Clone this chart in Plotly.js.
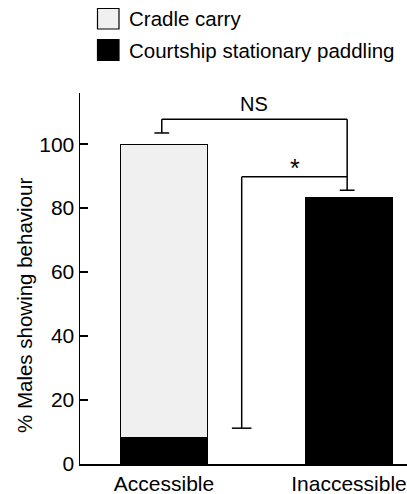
<!DOCTYPE html>
<html><head><meta charset="utf-8">
<script src="https://cdn.plot.ly/plotly-3.0.1.min.js"></script>
<style>html,body{margin:0;padding:0;background:#fff}#chart{width:407px;height:494px}</style>
</head><body><div id="chart"></div>
<script>
// ---- data ----
const categories = ['Accessible', 'Inaccessible'];
const seriesNames = ['Cradle carry', 'Courtship stationary paddling'];
const courtshipValues = [8.3, 83.3];
const cradleValues = [91.7, 0];
const yTickValues = [0, 20, 40, 60, 80, 100];
const yAxisTitle = '% Males showing behaviour';
// significance brackets: [left x, right x] (category index), [left end y, top y, right end y]
const nsBracketX = [-0.012, 0.99];
const nsBracketY = [103.5, 107.8, 85.6];
const nsLabel = 'NS';
const starBracketX = [0.42, 0.99];
const starBracketY = [11.2, 89.8, 89.8];
const starLabel = '*';

// ---- styles ----
const FONT = 'Liberation Sans, Arial, Helvetica, sans-serif';
const GRAY = '#f0f0f0';
const LW = 1.5;
const M = {l: 80, r: 0, t: 93, b: 30};
const W = 407, H = 494;
const pw = W - M.l - M.r, ph = H - M.t - M.b;
const px2x = p => (p - M.l) / pw;
const py2y = p => (H - M.b - p) / ph;

const traces = [
  {type: 'bar', name: seriesNames[1], x: categories, y: courtshipValues,
   marker: {color: '#000', line: {color: '#000', width: 1}}, showlegend: false, hoverinfo: 'skip'},
  {type: 'bar', name: seriesNames[0], x: categories, y: cradleValues,
   marker: {color: GRAY, line: {color: '#000', width: 1}}, showlegend: false, hoverinfo: 'skip'}
];

function line(x0, y0, x1, y1) {
  return {type: 'line', xref: 'x', yref: 'y', x0, y0, x1, y1, line: {color: '#000', width: LW}};
}
const capNS = 0.04, capStar = 0.053;
const shapes = [
  line(nsBracketX[0], nsBracketY[0], nsBracketX[0], nsBracketY[1]),
  line(nsBracketX[0], nsBracketY[1], nsBracketX[1], nsBracketY[1]),
  line(nsBracketX[1], nsBracketY[1], nsBracketX[1], nsBracketY[2]),
  line(nsBracketX[0] - capNS, nsBracketY[0], nsBracketX[0] + capNS, nsBracketY[0]),
  line(nsBracketX[1] - capNS, nsBracketY[2], nsBracketX[1] + capNS, nsBracketY[2]),
  line(starBracketX[0], starBracketY[0], starBracketX[0], starBracketY[1]),
  line(starBracketX[0], starBracketY[1], starBracketX[1], starBracketY[2]),
  line(starBracketX[0] - capStar, starBracketY[0], starBracketX[0] + capStar, starBracketY[0]),
  // legend boxes
  {type: 'rect', xref: 'paper', yref: 'paper', x0: px2x(97.5), x1: px2x(119), y0: py2y(29), y1: py2y(8.5),
   fillcolor: GRAY, line: {color: '#000', width: 1.2}},
  {type: 'rect', xref: 'paper', yref: 'paper', x0: px2x(97.5), x1: px2x(119), y0: py2y(60.5), y1: py2y(39.5),
   fillcolor: '#000', line: {color: '#000', width: 1.2}}
];

const annotations = [
  {xref: 'x', yref: 'y', x: (nsBracketX[0] + nsBracketX[1]) / 2, y: nsBracketY[1], yanchor: 'bottom', yshift: 2,
   text: nsLabel, showarrow: false, font: {family: FONT, size: 20, color: '#000'}},
  {xref: 'x', yref: 'y', x: 0.71, y: starBracketY[1], yanchor: 'bottom', yshift: -7,
   text: starLabel, showarrow: false, font: {family: FONT, size: 25, color: '#000'}},
  {xref: 'paper', yref: 'paper', x: px2x(127), y: py2y(18.8), xanchor: 'left', yanchor: 'middle',
   text: seriesNames[0], showarrow: false, font: {family: FONT, size: 20.5, color: '#000'}},
  {xref: 'paper', yref: 'paper', x: px2x(127), y: py2y(50), xanchor: 'left', yanchor: 'middle',
   text: seriesNames[1], showarrow: false, font: {family: FONT, size: 20.5, color: '#000'}},
  {xref: 'paper', yref: 'paper', x: px2x(24), y: py2y(306), xanchor: 'center', yanchor: 'middle', textangle: -90,
   text: yAxisTitle, showarrow: false, font: {family: FONT, size: 20.5, color: '#000'}}
];

const layout = {
  width: W, height: H, margin: M,
  paper_bgcolor: '#fff', plot_bgcolor: '#fff',
  barmode: 'stack', bargap: 0.535,
  showlegend: false,
  font: {family: FONT, size: 21, color: '#000'},
  xaxis: {type: 'category', range: [-0.454, 1.3135], showline: true, linecolor: '#000', linewidth: LW,
          ticks: '', showgrid: false, zeroline: false, tickfont: {size: 21}, fixedrange: true},
  yaxis: {range: [0, 116], tickvals: yTickValues, ticks: 'inside', ticklen: 8, tickwidth: LW, tickcolor: '#000',
          showline: true, linecolor: '#000', linewidth: LW, showgrid: false, zeroline: false,
          tickfont: {size: 21}, fixedrange: true},
  shapes, annotations
};

Plotly.newPlot('chart', traces, layout, {displayModeBar: false, staticPlot: true});
</script>
</body></html>
